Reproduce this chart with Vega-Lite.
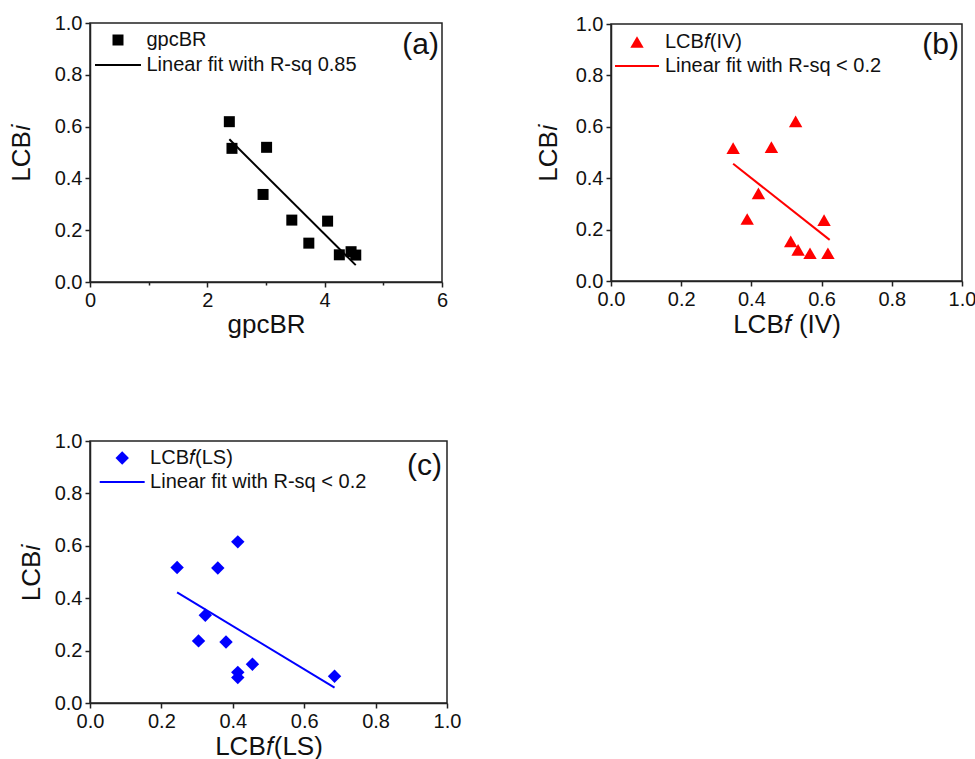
{
  "$schema": "https://vega.github.io/schema/vega-lite/v6.json",
  "autosize": {"type": "pad"},
  "padding": {"left": 7, "top": 12, "right": 0, "bottom": 0},
  "background": "white",
  "bounds": "flush",
  "columns": 2,
  "spacing": {"row": 159, "column": 164},
  "center": {"row": true, "column": false},
  "resolve": {"scale": {"shape": "independent"}, "legend": {"shape": "independent"}},
  "datasets": {
    "a": [
      {"gpcBR": 2.375, "LCBi": 0.619, "series": "gpcBR"},
      {"gpcBR": 2.42, "LCBi": 0.516, "series": "gpcBR"},
      {"gpcBR": 3.01, "LCBi": 0.52, "series": "gpcBR"},
      {"gpcBR": 2.95, "LCBi": 0.338, "series": "gpcBR"},
      {"gpcBR": 3.44, "LCBi": 0.239, "series": "gpcBR"},
      {"gpcBR": 4.05, "LCBi": 0.235, "series": "gpcBR"},
      {"gpcBR": 3.73, "LCBi": 0.15, "series": "gpcBR"},
      {"gpcBR": 4.25, "LCBi": 0.105, "series": "gpcBR"},
      {"gpcBR": 4.45, "LCBi": 0.117, "series": "gpcBR"},
      {"gpcBR": 4.53, "LCBi": 0.104, "series": "gpcBR"}
    ],
    "afit": [
      {"gpcBR": 2.375, "LCBi": 0.551},
      {"gpcBR": 4.53, "LCBi": 0.065}
    ],
    "b": [
      {"LCBf_IV": 0.348, "LCBi": 0.517, "series": "LCB𝑓(IV)"},
      {"LCBf_IV": 0.457, "LCBi": 0.521, "series": "LCB𝑓(IV)"},
      {"LCBf_IV": 0.526, "LCBi": 0.621, "series": "LCB𝑓(IV)"},
      {"LCBf_IV": 0.42, "LCBi": 0.341, "series": "LCB𝑓(IV)"},
      {"LCBf_IV": 0.388, "LCBi": 0.241, "series": "LCB𝑓(IV)"},
      {"LCBf_IV": 0.607, "LCBi": 0.237, "series": "LCB𝑓(IV)"},
      {"LCBf_IV": 0.512, "LCBi": 0.154, "series": "LCB𝑓(IV)"},
      {"LCBf_IV": 0.533, "LCBi": 0.121, "series": "LCB𝑓(IV)"},
      {"LCBf_IV": 0.567, "LCBi": 0.108, "series": "LCB𝑓(IV)"},
      {"LCBf_IV": 0.618, "LCBi": 0.108, "series": "LCB𝑓(IV)"}
    ],
    "bfit": [
      {"LCBf_IV": 0.348, "LCBi": 0.456},
      {"LCBf_IV": 0.623, "LCBi": 0.16}
    ],
    "c": [
      {"LCBf_LS": 0.244, "LCBi": 0.517, "series": "LCB𝑓(LS)"},
      {"LCBf_LS": 0.358, "LCBi": 0.515, "series": "LCB𝑓(LS)"},
      {"LCBf_LS": 0.414, "LCBi": 0.615, "series": "LCB𝑓(LS)"},
      {"LCBf_LS": 0.323, "LCBi": 0.335, "series": "LCB𝑓(LS)"},
      {"LCBf_LS": 0.304, "LCBi": 0.237, "series": "LCB𝑓(LS)"},
      {"LCBf_LS": 0.381, "LCBi": 0.233, "series": "LCB𝑓(LS)"},
      {"LCBf_LS": 0.455, "LCBi": 0.148, "series": "LCB𝑓(LS)"},
      {"LCBf_LS": 0.414, "LCBi": 0.117, "series": "LCB𝑓(LS)"},
      {"LCBf_LS": 0.414, "LCBi": 0.097, "series": "LCB𝑓(LS)"},
      {"LCBf_LS": 0.685, "LCBi": 0.102, "series": "LCB𝑓(LS)"}
    ],
    "cfit": [
      {"LCBf_LS": 0.244, "LCBi": 0.422},
      {"LCBf_LS": 0.685, "LCBi": 0.059}
    ]
  },
  "concat": [
    {
      "width": 352,
      "height": 259,
      "layer": [
        {
          "data": {"name": "a"},
          "mark": {"type": "point", "filled": true, "opacity": 1, "size": 121, "color": "black"},
          "encoding": {
            "x": {"field": "gpcBR", "type": "quantitative",
              "scale": {"domain": [0, 6], "nice": false, "zero": false},
              "axis": {"title": "gpcBR", "values": [0, 1, 2, 3, 4, 5, 6],
                "labelExpr": "round(datum.value) % 2 === 0 ? format(datum.value, 'd') : ''",
                "tickSize": {"condition": {"test": "round(datum.value) % 2 === 0", "value": 5}, "value": 3},
                "titlePadding": 1}},
            "y": {"field": "LCBi", "type": "quantitative",
              "scale": {"domain": [0, 1], "nice": false, "zero": false},
              "axis": {"title": "LCB𝑖", "values": [0, 0.1, 0.2, 0.3, 0.4, 0.5, 0.6, 0.7, 0.8, 0.9, 1.0],
                "labelExpr": "round(datum.value*10) % 2 === 0 ? format(datum.value, '.1f') : ''",
                "tickSize": {"condition": {"test": "round(datum.value*10) % 2 === 0", "value": 5}, "value": 3},
                "titlePadding": 20}},
            "shape": {"field": "series", "type": "nominal",
              "scale": {"domain": ["gpcBR", "Linear fit with R-sq 0.85"], "range": ["square", "M-4.18,-0.18H4.18V0.18H-4.18Z"]},
              "legend": {"orient": "none", "legendX": 18, "legendY": 7, "title": null,
                "symbolSize": 121, "symbolFillColor": "black", "symbolStrokeWidth": 0,
                "labelOffset": 18.5, "rowPadding": 5}}
          }
        },
        {
          "data": {"name": "afit"},
          "mark": {"type": "line", "color": "black", "strokeWidth": 2},
          "encoding": {
            "x": {"field": "gpcBR", "type": "quantitative"},
            "y": {"field": "LCBi", "type": "quantitative"}
          }
        },
        {
          "data": {"values": [{}]},
          "mark": {"type": "text", "text": "(a)", "align": "right", "baseline": "top", "fontSize": 30, "dx": -3, "dy": 7, "color": "#111"},
          "encoding": {"x": {"datum": 6}, "y": {"datum": 1}}
        }
      ]
    },
    {
      "width": 351,
      "height": 257,
      "layer": [
        {
          "data": {"name": "b"},
          "mark": {"type": "point", "filled": true, "opacity": 1, "size": 180, "color": "#ff0000"},
          "encoding": {
            "x": {"field": "LCBf_IV", "type": "quantitative",
              "scale": {"domain": [0, 1], "nice": false, "zero": false},
              "axis": {"title": "LCB𝑓 (IV)", "values": [0, 0.1, 0.2, 0.3, 0.4, 0.5, 0.6, 0.7, 0.8, 0.9, 1.0],
                "labelExpr": "round(datum.value*10) % 2 === 0 ? format(datum.value, '.1f') : ''",
                "tickSize": {"condition": {"test": "round(datum.value*10) % 2 === 0", "value": 5}, "value": 3},
                "titlePadding": 2}},
            "y": {"field": "LCBi", "type": "quantitative",
              "scale": {"domain": [0, 1], "nice": false, "zero": false},
              "axis": {"title": "LCB𝑖", "values": [0, 0.1, 0.2, 0.3, 0.4, 0.5, 0.6, 0.7, 0.8, 0.9, 1.0],
                "labelExpr": "round(datum.value*10) % 2 === 0 ? format(datum.value, '.1f') : ''",
                "tickSize": {"condition": {"test": "round(datum.value*10) % 2 === 0", "value": 5}, "value": 3},
                "titlePadding": 14}},
            "shape": {"field": "series", "type": "nominal",
              "scale": {"domain": ["LCB𝑓(IV)", "Linear fit with R-sq < 0.2"], "range": ["triangle-up", "M-3.28,-0.15H3.28V0.15H-3.28Z"]},
              "legend": {"orient": "none", "legendX": 16, "legendY": 8, "title": null,
                "symbolSize": 180, "symbolFillColor": "#ff0000", "symbolStrokeWidth": 0,
                "labelOffset": 17.9, "rowPadding": 4}}
          }
        },
        {
          "data": {"name": "bfit"},
          "mark": {"type": "line", "color": "#ff0000", "strokeWidth": 2},
          "encoding": {
            "x": {"field": "LCBf_IV", "type": "quantitative"},
            "y": {"field": "LCBi", "type": "quantitative"}
          }
        },
        {
          "data": {"values": [{}]},
          "mark": {"type": "text", "text": "(b)", "align": "right", "baseline": "top", "fontSize": 30, "dx": -3, "dy": 6, "color": "#111"},
          "encoding": {"x": {"datum": 1}, "y": {"datum": 1}}
        }
      ]
    },
    {
      "width": 357,
      "height": 262,
      "layer": [
        {
          "data": {"name": "c"},
          "mark": {"type": "point", "filled": true, "opacity": 1, "size": 180, "color": "#0000ff"},
          "encoding": {
            "x": {"field": "LCBf_LS", "type": "quantitative",
              "scale": {"domain": [0, 1], "nice": false, "zero": false},
              "axis": {"title": "LCB𝑓(LS)", "values": [0, 0.1, 0.2, 0.3, 0.4, 0.5, 0.6, 0.7, 0.8, 0.9, 1.0],
                "labelExpr": "round(datum.value*10) % 2 === 0 ? format(datum.value, '.1f') : ''",
                "tickSize": {"condition": {"test": "round(datum.value*10) % 2 === 0", "value": 5}, "value": 3},
                "titlePadding": 2}},
            "y": {"field": "LCBi", "type": "quantitative",
              "scale": {"domain": [0, 1], "nice": false, "zero": false},
              "axis": {"title": "LCB𝑖", "values": [0, 0.1, 0.2, 0.3, 0.4, 0.5, 0.6, 0.7, 0.8, 0.9, 1.0],
                "labelExpr": "round(datum.value*10) % 2 === 0 ? format(datum.value, '.1f') : ''",
                "tickSize": {"condition": {"test": "round(datum.value*10) % 2 === 0", "value": 5}, "value": 3},
                "titlePadding": 10}},
            "shape": {"field": "series", "type": "nominal",
              "scale": {"domain": ["LCB𝑓(LS)", "Linear fit with R-sq < 0.2"], "range": ["diamond", "M-3.35,-0.15H3.35V0.15H-3.35Z"]},
              "legend": {"orient": "none", "legendX": 22.2, "legendY": 7, "title": null,
                "labelExpr": "indexof(datum.label, 'Linear') === 0 ? '\u2005\u2005' + datum.label : datum.label",
                "symbolSize": 180, "symbolFillColor": "#0000ff", "symbolStrokeWidth": 0,
                "labelOffset": 17.9, "rowPadding": 4}}
          }
        },
        {
          "data": {"name": "cfit"},
          "mark": {"type": "line", "color": "#0000ff", "strokeWidth": 2},
          "encoding": {
            "x": {"field": "LCBf_LS", "type": "quantitative"},
            "y": {"field": "LCBi", "type": "quantitative"}
          }
        },
        {
          "data": {"values": [{}]},
          "mark": {"type": "text", "text": "(c)", "align": "right", "baseline": "top", "fontSize": 30, "dx": -5, "dy": 10, "color": "#111"},
          "encoding": {"x": {"datum": 1}, "y": {"datum": 1}}
        }
      ]
    }
  ],
  "config": {
    "font": "Liberation Sans",
    "view": {"stroke": "#222", "strokeWidth": 1.5},
    "axis": {
      "grid": false,
      "domainColor": "#222",
      "domainWidth": 1.5,
      "tickColor": "#222",
      "tickWidth": 1.5,
      "labelColor": "#111",
      "titleColor": "#111",
      "labelFont": "Liberation Sans",
      "titleFont": "Liberation Sans",
      "labelFontSize": 20,
      "titleFontSize": 26,
      "titleFontWeight": "normal",
      "labelPadding": 3,
      "labelOverlap": false,
      "labelFlush": false,
      "labelBound": false
    },
    "legend": {
      "padding": 0,
      "labelFont": "Liberation Sans",
      "labelFontSize": 20,
      "labelColor": "#111",
      "labelLimit": 400,
      "symbolOpacity": 1
    }
  }
}
